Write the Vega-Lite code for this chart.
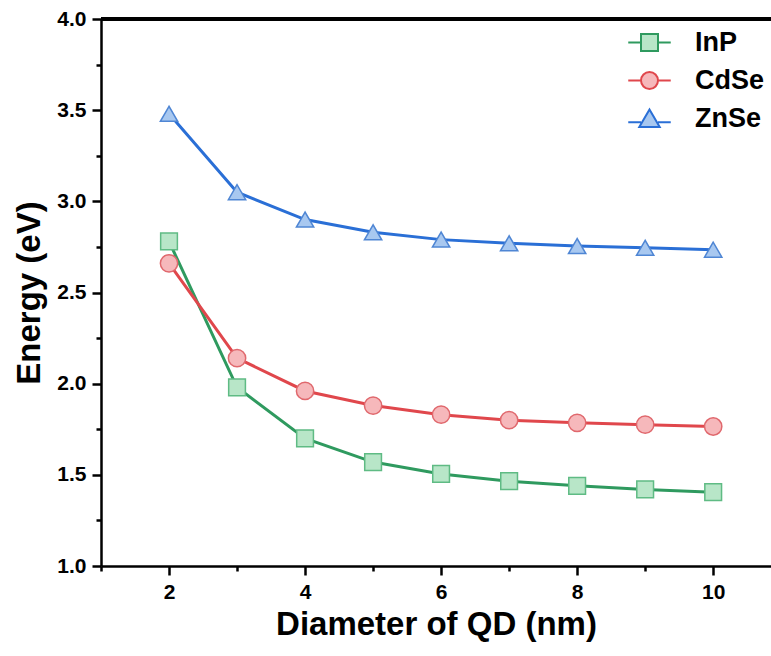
{
  "$schema": "https://vega.github.io/schema/vega-lite/v6.json",
  "width": 670,
  "height": 547,
  "autosize": {"type": "none"},
  "padding": {"left": 101, "top": 19, "right": 0, "bottom": 90},
  "background": "white",
  "config": {
    "view": {"stroke": null},
    "font": "Liberation Sans",
    "axis": {
      "domainColor": "black",
      "domainWidth": 2.5,
      "tickColor": "black",
      "tickWidth": 2.5,
      "labelFont": "Liberation Sans",
      "labelFontWeight": "bold",
      "labelColor": "black",
      "titleFont": "Liberation Sans",
      "titleFontWeight": "bold",
      "titleFontSize": 33,
      "titleColor": "black",
      "grid": false
    }
  },
  "data": {
    "values": [
      {"d": 2, "E": 2.78, "m": "InP"},
      {"d": 3, "E": 1.98, "m": "InP"},
      {"d": 4, "E": 1.70, "m": "InP"},
      {"d": 5, "E": 1.57, "m": "InP"},
      {"d": 6, "E": 1.505, "m": "InP"},
      {"d": 7, "E": 1.465, "m": "InP"},
      {"d": 8, "E": 1.44, "m": "InP"},
      {"d": 9, "E": 1.42, "m": "InP"},
      {"d": 10, "E": 1.405, "m": "InP"},
      {"d": 2, "E": 2.66, "m": "CdSe"},
      {"d": 3, "E": 2.14, "m": "CdSe"},
      {"d": 4, "E": 1.96, "m": "CdSe"},
      {"d": 5, "E": 1.88, "m": "CdSe"},
      {"d": 6, "E": 1.83, "m": "CdSe"},
      {"d": 7, "E": 1.80, "m": "CdSe"},
      {"d": 8, "E": 1.785, "m": "CdSe"},
      {"d": 9, "E": 1.775, "m": "CdSe"},
      {"d": 10, "E": 1.765, "m": "CdSe"},
      {"d": 2, "E": 3.48, "m": "ZnSe"},
      {"d": 3, "E": 3.05, "m": "ZnSe"},
      {"d": 4, "E": 2.90, "m": "ZnSe"},
      {"d": 5, "E": 2.83, "m": "ZnSe"},
      {"d": 6, "E": 2.79, "m": "ZnSe"},
      {"d": 7, "E": 2.77, "m": "ZnSe"},
      {"d": 8, "E": 2.755, "m": "ZnSe"},
      {"d": 9, "E": 2.745, "m": "ZnSe"},
      {"d": 10, "E": 2.735, "m": "ZnSe"}
    ]
  },
  "encoding": {
    "x": {
      "field": "d", "type": "quantitative",
      "scale": {"domain": [1, 10.85], "nice": false, "zero": false},
      "axis": {
        "title": "Diameter of QD (nm)",
        "values": [1, 2, 3, 4, 5, 6, 7, 8, 9, 10],
        "labelExpr": "datum.value % 2 === 0 ? datum.label : ''",
        "labelFontSize": 21,
        "tickSize": {"condition": {"test": "datum.value % 2 === 1", "value": 5}, "value": 9},
        "labelPadding": 6,
        "titlePadding": 6
      }
    },
    "y": {
      "field": "E", "type": "quantitative",
      "scale": {"domain": [1, 4], "nice": false, "zero": false},
      "axis": {
        "title": "Energy (eV)",
        "values": [1, 1.25, 1.5, 1.75, 2, 2.25, 2.5, 2.75, 3, 3.25, 3.5, 3.75, 4],
        "labelExpr": "datum.value % 0.5 === 0 ? format(datum.value, '.1f') : ''",
        "labelFontSize": 21,
        "tickSize": {"condition": {"test": "datum.value % 0.5 !== 0", "value": 5}, "value": 9},
        "labelPadding": 6,
        "titlePadding": 10
      }
    }
  },
  "layer": [
    {
      "mark": {"type": "rule", "color": "black", "strokeWidth": 2.5},
      "encoding": {"y": {"datum": 4}, "x": null}
    },
    {
      "mark": {"type": "line", "strokeWidth": 3},
      "encoding": {
        "color": {
          "field": "m", "type": "nominal",
          "scale": {"range": ["#e0474c", "#2f9a5f", "#2a6fd6"]},
          "legend": null
        }
      }
    },
    {
      "transform": [{"filter": "datum.d > 100"}],
      "mark": {"type": "point", "filled": true, "opacity": 1},
      "encoding": {
        "stroke": {
          "field": "m", "type": "nominal",
          "scale": {"domain": ["InP", "CdSe", "ZnSe"], "range": ["#2f9a5f", "#e0474c", "#2a6fd6"]},
          "legend": {"orient": "none", "legendX": 535, "legendY": 10, "title": null, "padding": 0, "labelFont": "Liberation Sans", "labelFontWeight": "bold", "labelFontSize": 27, "labelColor": "black", "symbolSize": 289, "symbolStrokeWidth": 2, "labelOffset": 32, "rowPadding": 10}
        },
        "fill": {
          "field": "m", "type": "nominal",
          "scale": {"domain": ["InP", "CdSe", "ZnSe"], "range": ["#b8e6c8", "#f6b8bb", "#a8c8f0"]},
          "legend": {"orient": "none", "legendX": 535, "legendY": 10, "title": null, "padding": 0, "labelFont": "Liberation Sans", "labelFontWeight": "bold", "labelFontSize": 27, "labelColor": "black", "symbolSize": 289, "symbolStrokeWidth": 2, "labelOffset": 32, "rowPadding": 10}
        },
        "shape": {
          "field": "m", "type": "nominal",
          "scale": {"domain": ["InP", "CdSe", "ZnSe"], "range": [
            "M-2.5,0H-1M1,0H2.5M-1,-1H1V1H-1Z",
            "M-2.5,0H-1M1,0H2.5M-1,0A1,1 0 1,0 1,0A1,1 0 1,0 -1,0Z",
            "M-2.5,0.45H-1M1,0.45H2.5M0,-1.05L1.2,1H-1.2Z"
          ]},
          "legend": {"orient": "none", "legendX": 535, "legendY": 10, "title": null, "padding": 0, "labelFont": "Liberation Sans", "labelFontWeight": "bold", "labelFontSize": 27, "labelColor": "black", "symbolSize": 289, "symbolStrokeWidth": 2, "labelOffset": 32, "rowPadding": 10}
        }
      }
    },
    {
      "transform": [{"filter": "datum.m === 'InP'"}],
      "mark": {"type": "point", "shape": "square", "size": 280, "filled": true, "fill": "#b8e6c8", "stroke": "#5fbb84", "strokeWidth": 1.5, "opacity": 1}
    },
    {
      "transform": [{"filter": "datum.m === 'CdSe'"}],
      "mark": {"type": "point", "shape": "circle", "size": 300, "filled": true, "fill": "#f6b8bb", "stroke": "#e0686d", "strokeWidth": 1.5, "opacity": 1}
    },
    {
      "transform": [{"filter": "datum.m === 'ZnSe'"}],
      "mark": {"type": "point", "shape": "triangle-up", "size": 300, "filled": true, "fill": "#a8c8f0", "stroke": "#4f86d4", "strokeWidth": 1.5, "opacity": 1}
    }
  ]
}
